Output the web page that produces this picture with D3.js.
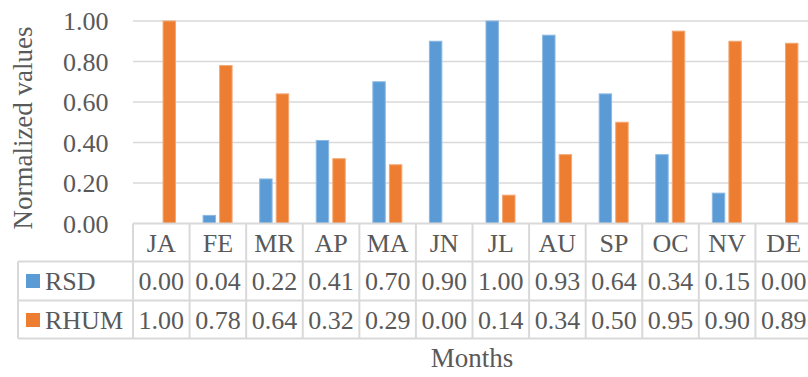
<!DOCTYPE html>
<html>
<head>
<script src="https://d3js.org/d3.v7.min.js"></script>
<style>
  body { margin: 0; background: #fff; }
</style>
</head>
<body>
<script>
const W = 808, H = 377
const months = ["JA", "FE", "MR", "AP", "MA", "JN", "JL", "AU", "SP", "OC", "NV", "DE"]
const seriesNames = ["RSD", "RHUM"]
const rsd = [0.00, 0.04, 0.22, 0.41, 0.70, 0.90, 1.00, 0.93, 0.64, 0.34, 0.15, 0.00]
const rhum = [1.00, 0.78, 0.64, 0.32, 0.29, 0.00, 0.14, 0.34, 0.50, 0.95, 0.90, 0.89]
const yTicks = [0, 0.2, 0.4, 0.6, 0.8, 1.0]
const colors = ["#5B9BD5", "#ED7D31"]
const strokes = ["#8db9e2", "#f3a774"]

const values = [rsd, rhum]
const grid = "#D9D9D9"
const font = "'Liberation Serif', 'Times New Roman', serif"
const ink = "#595959"
const fs = 26

const svg = d3.select("body").append("svg")
  .attr("width", W)
  .attr("height", H)
  .attr("font-family", font)
  .attr("fill", ink)

// scales
const x0 = d3.scaleBand().domain(months).range([133, 812]).padding(0)
const x1 = d3.scaleBand().domain(seriesNames).range([13.5, 42.5]).paddingInner(0.25)
const y = d3.scaleLinear().domain([0, 1]).range([223.5, 21])

// gridlines
svg.append("g").selectAll("line")
  .data(yTicks.slice(1))
  .join("line")
  .attr("x1", 133).attr("x2", 812)
  .attr("y1", d => y(d)).attr("y2", d => y(d))
  .attr("stroke", grid).attr("stroke-width", 1.5)

// y tick labels
svg.append("g").selectAll("text")
  .data(yTicks)
  .join("text")
  .attr("x", 108.5)
  .attr("y", d => y(d) + 9)
  .attr("text-anchor", "end")
  .attr("font-size", fs)
  .text(d => d3.format(".2f")(d))

// bars
const groups = svg.append("g").selectAll("g")
  .data(months)
  .join("g")
  .attr("transform", d => `translate(${x0(d)},0)`)

groups.selectAll("rect")
  .data((m, i) => seriesNames.map((s, k) => ({ s, k, v: values[k][i] })))
  .join("rect")
  .filter(d => d.v > 0)
  .attr("x", d => x1(d.s))
  .attr("width", x1.bandwidth())
  .attr("y", d => y(d.v))
  .attr("height", d => y(0) - y(d.v))
  .attr("fill", d => colors[d.k])
  .attr("stroke", d => strokes[d.k])
  .attr("stroke-width", 1)

// data table
const rowTop = [223.5, 261.5, 300.5]
const rowBottom = 338.5
const tbl = svg.append("g")

tbl.append("line").attr("x1", 133).attr("x2", 812).attr("y1", rowTop[0]).attr("y2", rowTop[0])
  .attr("stroke", grid).attr("stroke-width", 2)
;[rowTop[1], rowTop[2], rowBottom].forEach(yy => {
  tbl.append("line").attr("x1", 18).attr("x2", 812).attr("y1", yy).attr("y2", yy)
    .attr("stroke", grid).attr("stroke-width", 2)
})
tbl.selectAll(".vl")
  .data(months)
  .join("line")
  .attr("x1", d => x0(d)).attr("x2", d => x0(d))
  .attr("y1", rowTop[0]).attr("y2", rowBottom)
  .attr("stroke", grid).attr("stroke-width", 2)
tbl.append("line").attr("x1", 18).attr("x2", 18).attr("y1", rowTop[1]).attr("y2", rowBottom)
  .attr("stroke", grid).attr("stroke-width", 2)

// month header
tbl.selectAll(".mh")
  .data(months)
  .join("text")
  .attr("x", d => x0(d) + x0.bandwidth() / 2)
  .attr("y", rowTop[0] + 28.5)
  .attr("text-anchor", "middle")
  .attr("font-size", fs)
  .text(d => d)

// value rows with legend keys
seriesNames.forEach((s, k) => {
  const top = rowTop[k + 1]
  tbl.append("rect")
    .attr("x", 26).attr("y", top + 12.5)
    .attr("width", 14).attr("height", 14)
    .attr("fill", colors[k])
  tbl.append("text")
    .attr("x", 45).attr("y", top + 28.5)
    .attr("font-size", fs)
    .text(s)
  tbl.append("g").selectAll("text")
    .data(values[k])
    .join("text")
    .attr("x", (d, i) => x0(months[i]) + x0.bandwidth() / 2)
    .attr("y", top + 28.5)
    .attr("text-anchor", "middle")
    .attr("font-size", fs)
    .text(d => d3.format(".2f")(d))
})

// axis titles
svg.append("text")
  .attr("transform", "translate(32,128) rotate(-90)")
  .attr("text-anchor", "middle")
  .attr("font-size", 27)
  .text("Normalized values")

svg.append("text")
  .attr("x", 472)
  .attr("y", 367)
  .attr("text-anchor", "middle")
  .attr("font-size", 27)
  .text("Months")
</script>
</body>
</html>
